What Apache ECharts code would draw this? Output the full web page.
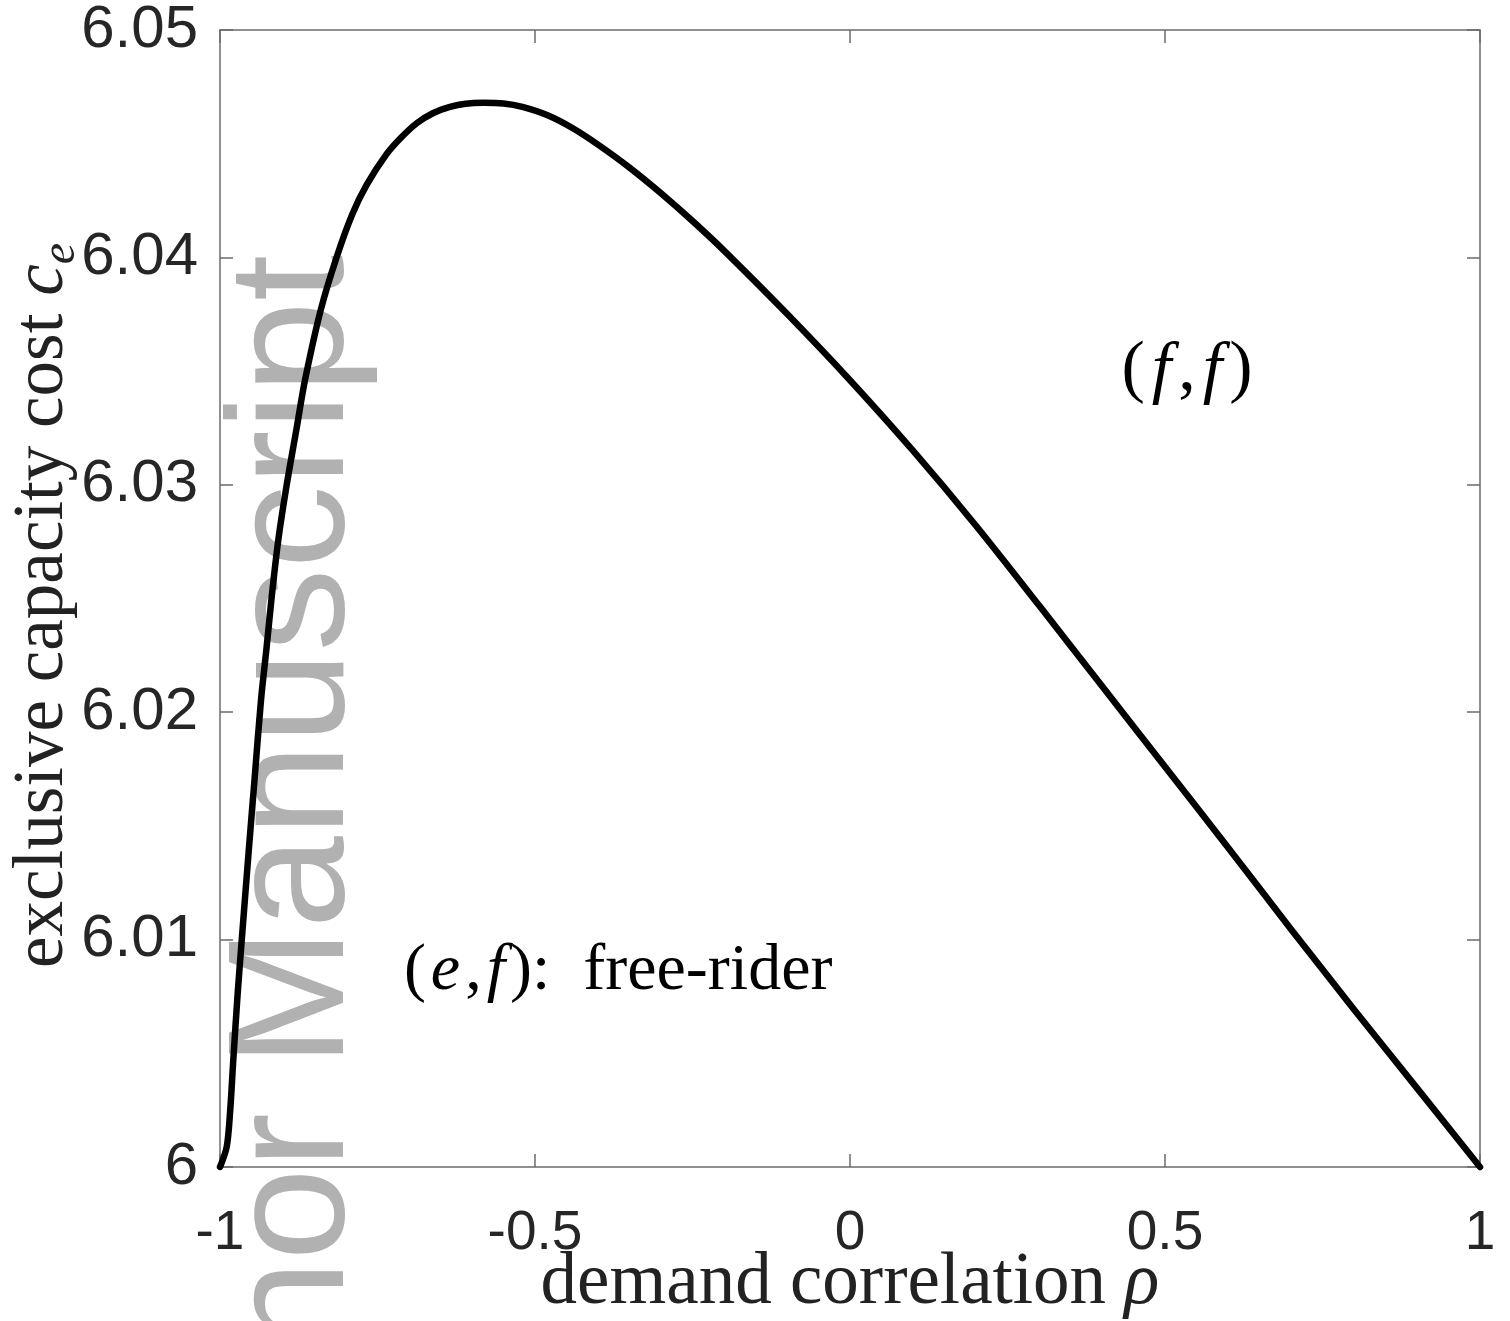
<!DOCTYPE html>
<html>
<head>
<meta charset="utf-8">
<title>Exclusive capacity cost vs demand correlation</title>
<script src="https://cdn.jsdelivr.net/npm/echarts@6/dist/echarts.min.js"></script>
<style>
  html, body { margin: 0; padding: 0; background: #ffffff; }
  #chart { width: 1510px; height: 1321px; }
</style>
</head>
<body>
<div id="chart"></div>
<script>
// Demand correlation (x) and the threshold exclusive capacity cost (y)
const rho = [-1, -0.9894, -0.9841, -0.9789, -0.9719, -0.9656, -0.955, -0.945, -0.9349,
  -0.9259, -0.9179, -0.9075, -0.8941, -0.8783, -0.8651, -0.84, -0.815, -0.79,
  -0.767, -0.7354, -0.7143, -0.6878, -0.6614, -0.6349, -0.61, -0.582, -0.55,
  -0.52, -0.48, -0.44, -0.40, -0.35, -0.30, -0.25, -0.20, -0.10, 0,
  0.1, 0.2, 0.3, 0.4, 0.5, 0.6, 0.7, 0.8, 0.9, 1];
const cost = [6.0000, 6.00088, 6.00237, 6.00471, 6.00765, 6.00994, 6.0137, 6.0171, 6.02054,
  6.02288, 6.02508, 6.02757, 6.0300, 6.0325, 6.0346, 6.0377, 6.0400, 6.0419,
  6.0432, 6.04455, 6.04522, 6.0459, 6.04635, 6.04662, 6.04676, 6.0468, 6.04677,
  6.04662, 6.04625, 6.04568, 6.04496, 6.04395, 6.04282, 6.0416, 6.0403, 6.03752, 6.0346,
  6.0315, 6.0282, 6.0247, 6.02115, 6.0176, 6.01405, 6.01046, 6.00693, 6.00347, 6.0000];

// Axis ranges and tick steps
const xTicks = [-1, -0.5, 0, 0.5, 1];
const yTicks = [6, 6.01, 6.02, 6.03, 6.04, 6.05];

// Region labels placed in data coordinates
const regionLabels = [
  { rho: 0.535, cost: 6.0350, size: 70, pad: 7, text: '{p|(}{i|f}{p|,}{i|f}{p|)}' },
  { rho: -0.368, cost: 6.0086, size: 66, pad: 5, text: '{p|(}{i|e}{p|,}{i|f}{p|):  free-rider}' }
];

const SERIF = '"Liberation Serif", "DejaVu Serif", serif';
const SANS = '"Liberation Sans", Arial, Helvetica, sans-serif';
const FRAME = '#6b6b6b';
const TEXT = '#262626';

const chart = echarts.init(document.getElementById('chart'), null, { renderer: 'canvas' });

const frameAxis = {
  type: 'value',
  axisLine: { show: true, onZero: false, lineStyle: { color: FRAME, width: 1.5 } },
  axisTick: { show: true, inside: true, length: 13, lineStyle: { color: FRAME, width: 1.5 } },
  splitLine: { show: false }
};

function serifRich(size, pad) {
  return {
    p: { fontFamily: SERIF, fontSize: size, color: '#000' },
    i: { fontFamily: SERIF, fontSize: size, fontStyle: 'italic', color: '#000', padding: [0, pad, 0, pad] }
  };
}

const option = {
  animation: false,
  backgroundColor: '#ffffff',
  grid: { left: 220, right: 30, top: 30, bottom: 154, containLabel: false, outerBoundsMode: 'none' },
  xAxis: [
    Object.assign({}, frameAxis, {
      position: 'bottom',
      min: xTicks[0], max: xTicks[xTicks.length - 1], interval: 0.5,
      axisLabel: {
        show: true, margin: 39, color: TEXT, fontFamily: SANS, fontSize: 55,
        formatter: v => String(+v.toFixed(2))
      },
      name: '{n|demand correlation }{i|ρ}',
      nameLocation: 'middle',
      nameGap: 80,
      nameMoveOverlap: false,
      nameTextStyle: {
        rich: {
          n: { fontFamily: SERIF, fontSize: 73, color: '#222' },
          i: { fontFamily: SERIF, fontSize: 73, fontStyle: 'italic', color: '#222' }
        }
      }
    }),
    Object.assign({}, frameAxis, {
      position: 'top',
      min: xTicks[0], max: xTicks[xTicks.length - 1], interval: 0.5,
      axisLabel: { show: false }
    })
  ],
  yAxis: [
    Object.assign({}, frameAxis, {
      position: 'left',
      min: yTicks[0], max: yTicks[yTicks.length - 1], interval: 0.01,
      axisLabel: {
        show: true, margin: 22, color: TEXT, fontFamily: SANS, fontSize: 60,
        formatter: v => String(+v.toFixed(2))
      },
      name: '{n|exclusive capacity cost }{i|c}{s|e}',
      nameLocation: 'middle',
      nameGap: 135,
      nameMoveOverlap: false,
      nameRotate: 90,
      nameTextStyle: {
        padding: [0, 14, 0, 0],
        rich: {
          n: { fontFamily: SERIF, fontSize: 71, color: '#222', lineHeight: 71, padding: [0, 0, 12, 0] },
          i: { fontFamily: SERIF, fontSize: 71, fontStyle: 'italic', color: '#222', lineHeight: 71, padding: [0, 0, 12, 0] },
          s: { fontFamily: SERIF, fontSize: 48, fontStyle: 'italic', color: '#222', lineHeight: 48, verticalAlign: 'bottom' }
        }
      }
    }),
    Object.assign({}, frameAxis, {
      position: 'right',
      min: yTicks[0], max: yTicks[yTicks.length - 1], interval: 0.01,
      axisLabel: { show: false }
    })
  ],
  graphic: [
    {
      type: 'text',
      z: 1,
      x: 297,
      y: 1602,
      rotation: Math.PI / 2,
      silent: true,
      style: {
        text: 'Author Manuscript',
        font: '166px "Liberation Sans", Arial, sans-serif',
        fill: '#b1b1b1',
        align: 'left',
        verticalAlign: 'middle'
      }
    }
  ],
  series: [
    {
      type: 'line',
      xAxisIndex: 0,
      yAxisIndex: 0,
      z: 10,
      data: rho.map((r, k) => [r, cost[k]]),
      showSymbol: false,
      smooth: 0.3,
      clip: false,
      lineStyle: { color: '#000000', width: 6.5, cap: 'round', join: 'round' }
    },
    {
      type: 'scatter',
      xAxisIndex: 0,
      yAxisIndex: 0,
      z: 11,
      symbolSize: 0,
      silent: true,
      itemStyle: { opacity: 1 },
      data: regionLabels.map(d => ({
        value: [d.rho, d.cost],
        label: {
          show: true,
          position: 'inside',
          color: '#000',
          opacity: 1,
          formatter: d.text,
          rich: serifRich(d.size, d.pad)
        }
      }))
    }
  ]
};

chart.setOption(option);
</script>
</body>
</html>
